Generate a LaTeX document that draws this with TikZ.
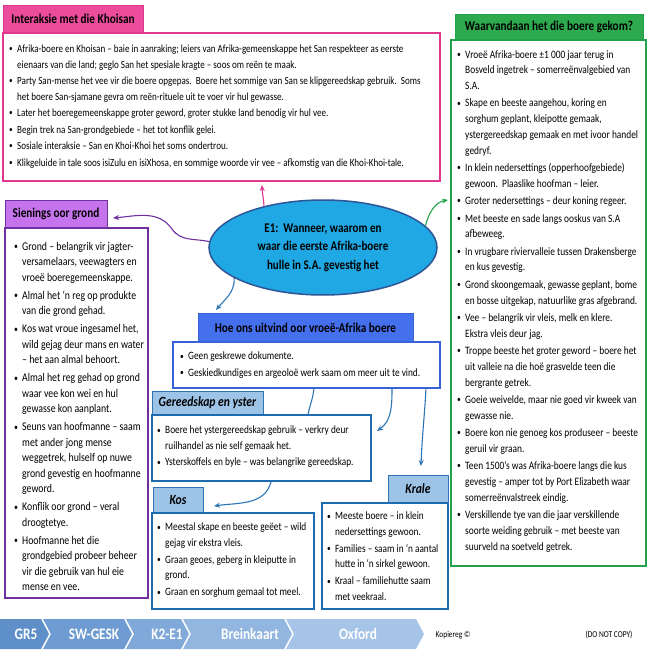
\documentclass[tikz,border=0pt]{standalone}
\usepackage{fontspec}
\setmainfont{Carlito}[FakeStretch=0.83]
\usepackage{graphicx}
\usetikzlibrary{calc,shapes.geometric,arrows.meta}

\definecolor{pinkc}{HTML}{E2378E}
\definecolor{pinktab}{HTML}{EB4C9B}
\definecolor{greenc}{HTML}{22A24B}
\definecolor{greentab}{HTML}{2EAA4E}
\definecolor{purplec}{HTML}{7030A0}
\definecolor{purpletab}{HTML}{C674EE}
\definecolor{ellfill}{HTML}{1FA8E4}
\definecolor{elldraw}{HTML}{2F5597}
\definecolor{hoetab}{HTML}{4470EE}
\definecolor{hoec}{HTML}{3A62D6}
\definecolor{ltab}{HTML}{9DC3E6}
\definecolor{bluec}{HTML}{1F6BB0}
\definecolor{arrowblue}{HTML}{2E75B6}
\definecolor{chA}{HTML}{5E8FC9}
\definecolor{chB}{HTML}{6E9BD1}
\definecolor{chC}{HTML}{80A9D9}
\definecolor{chD}{HTML}{92B6E0}
\definecolor{chE}{HTML}{A6C4E7}

\newcommand\bul{\makebox[8pt][l]{\raisebox{0.15ex}{\scalebox{0.8}{\textbullet}}}}
\newcommand\ind{\hspace*{8pt}}

\begin{document}
\begin{tikzpicture}[x=1pt,y=-1pt,
  tabbox/.style={draw, line width=0.8pt, inner sep=0pt, outer sep=0pt, text=black,
    font=\fontsize{13.5}{16}\selectfont\bfseries},
  ltabbox/.style={tabbox, fill=ltab, draw=arrowblue,
    font=\fontsize{14}{16}\selectfont\bfseries\itshape},
  cbox/.style={draw, line width=2.6pt, fill=white, inner sep=0pt, outer sep=0pt},
  txt/.style={align=left, inner sep=0pt, anchor=north west, text=black,
    font=\fontsize{11.2}{15.5}\selectfont},
  conn/.style={line width=1.1pt, -{Stealth[length=6pt,width=5pt]}},
  plain/.style={line width=1.1pt},
  chev/.style={text=white, font=\fontsize{16}{18}\selectfont\bfseries},
  foot/.style={text=black, font=\fontsize{9}{10}\selectfont}
]
\useasboundingbox (0,0) rectangle (650,650);
\fill[white] (0,0) rectangle (650,650);

% ---------- Interaksie met die Khoisan ----------
\node[tabbox, fill=pinktab, draw=pinkc, minimum width=140pt, minimum height=28pt] (ktab) at (73,19) {Interaksie met die Khoisan};
\node[cbox, draw=pinkc, minimum width=437pt, minimum height=148pt] (kbox) at (221.5,107) {};
\node[txt, font=\fontsize{10.9}{15.5}\selectfont] (ktext) at ($(kbox.north west)+(6,12)$) {%
\bul Afrika-boere en Khoisan – baie in aanraking; leiers van Afrika-gemeenskappe het San respekteer as eerste\\
\ind eienaars van die land; geglo San het spesiale kragte – soos om reën te maak.\\[1pt]
\bul Party San-mense het vee vir die boere opgepas.\ \ Boere het sommige van San se klipgereedskap gebruik.\ \ Soms\\
\ind het boere San-sjamane gevra om reën-rituele uit te voer vir hul gewasse.\\[1pt]
\bul Later het boeregemeenskappe groter geword, groter stukke land benodig vir hul vee.\\[1pt]
\bul Begin trek na San-grondgebiede – het tot konflik gelei.\\[1pt]
\bul Sosiale interaksie – San en Khoi-Khoi het soms ondertrou.\\[1pt]
\bul Klikgeluide in tale soos isiZulu en isiXhosa, en sommige woorde vir vee – afkomstig van die Khoi-Khoi-tale.};

% ---------- Waarvandaan ----------
\node[tabbox, fill=greentab, draw=greenc, minimum width=188pt, minimum height=26pt] (gtab) at (549,27) {Waarvandaan het die boere gekom?};
\node[cbox, draw=greenc, minimum width=195pt, minimum height=526pt] (gbox) at (548.5,303) {};
\node[txt, font=\fontsize{11.3}{15.8}\selectfont] (gtext) at ($(gbox.north west)+(6,10)$) {%
\bul Vroeë Afrika-boere ±1 000 jaar terug in\\
\ind Bosveld ingetrek – somerreënvalgebied van\\
\ind S.A.\\[1.5pt]
\bul Skape en beeste aangehou, koring en\\
\ind sorghum geplant, kleipotte gemaak,\\
\ind ystergereedskap gemaak en met ivoor handel\\
\ind gedryf.\\[1.5pt]
\bul In klein nedersettings (opperhoofgebiede)\\
\ind gewoon.\ \ Plaaslike hoofman – leier.\\[1.5pt]
\bul Groter nedersettings – deur koning regeer.\\[1.5pt]
\bul Met beeste en sade langs ooskus van S.A\\
\ind afbeweeg.\\[1.5pt]
\bul In vrugbare riviervalleie tussen Drakensberge\\
\ind en kus gevestig.\\[1.5pt]
\bul Grond skoongemaak, gewasse geplant, bome\\
\ind en bosse uitgekap, natuurlike gras afgebrand.\\[1.5pt]
\bul Vee – belangrik vir vleis, melk en klere.\\
\ind Ekstra vleis deur jag.\\[1.5pt]
\bul Troppe beeste het groter geword – boere het\\
\ind uit valleie na die hoë grasvelde teen die\\
\ind bergrante getrek.\\[1.5pt]
\bul Goeie weivelde, maar nie goed vir kweek van\\
\ind gewasse nie.\\[1.5pt]
\bul Boere kon nie genoeg kos produseer – beeste\\
\ind geruil vir graan.\\[1.5pt]
\bul Teen 1500’s was Afrika-boere langs die kus\\
\ind gevestig – amper tot by Port Elizabeth waar\\
\ind somerreënvalstreek eindig.\\[1.5pt]
\bul Verskillende tye van die jaar verskillende\\
\ind soorte weiding gebruik – met beeste van\\
\ind suurveld na soetveld getrek.};

% ---------- Sienings oor grond ----------
\node[tabbox, fill=purpletab, draw=purplec, minimum width=102pt, minimum height=28pt] (stab) at (56,214) {Sienings oor grond};
\node[cbox, draw=purplec, minimum width=143pt, minimum height=370pt] (sbox) at (76.5,413) {};
\node[txt, font=\fontsize{11.8}{15.5}\selectfont] (stext) at ($(sbox.north west)+(9,14)$) {%
\bul Grond – belangrik vir jagter-\\
\ind versamelaars, veewagters en\\
\ind vroeë boeregemeenskappe.\\[2.5pt]
\bul Almal het ‘n reg op produkte\\
\ind van die grond gehad.\\[2.5pt]
\bul Kos wat vroue ingesamel het,\\
\ind wild gejag deur mans en water\\
\ind – het aan almal behoort.\\[2.5pt]
\bul Almal het reg gehad op grond\\
\ind waar vee kon wei en hul\\
\ind gewasse kon aanplant.\\[2.5pt]
\bul Seuns van hoofmanne – saam\\
\ind met ander jong mense\\
\ind weggetrek, hulself op nuwe\\
\ind grond gevestig en hoofmanne\\
\ind geword.\\[2.5pt]
\bul Konflik oor grond – veral\\
\ind droogtetye.\\[2.5pt]
\bul Hoofmanne het die\\
\ind grondgebied probeer beheer\\
\ind vir die gebruik van hul eie\\
\ind mense en vee.};

% ---------- central ellipse ----------
\node[ellipse, draw=elldraw, line width=1.5pt, fill=ellfill, minimum width=228pt, minimum height=95pt,
  inner sep=0pt, align=center, font=\fontsize{13.3}{18.5}\selectfont\bfseries] (ell) at (323,247.5)
  {E1:\ \ Wanneer, waarom en\\waar die eerste Afrika-boere\\hulle in S.A. gevestig het};

% ---------- Hoe ons uitvind ----------
\node[tabbox, fill=hoetab, draw=hoec, minimum width=215pt, minimum height=29pt] (htab) at (305.5,327.5) {Hoe ons uitvind oor vroeë-Afrika boere};
\node[cbox, draw=hoec, minimum width=267pt, minimum height=46pt] (hbox) at (306.5,365) {};
\node[txt] (htext) at ($(hbox.north west)+(7,10)$) {%
\bul Geen geskrewe dokumente.\\[1pt]
\bul Geskiedkundiges en argeoloë werk saam om meer uit te vind.};

% ---------- Gereedskap en yster ----------
\node[ltabbox, minimum width=111pt, minimum height=24pt] (gytab) at (207.5,403) {Gereedskap en yster};
\node[cbox, draw=bluec, minimum width=219pt, minimum height=66pt] (gybox) at (261.5,448) {};
\node[txt] (gytext) at ($(gybox.north west)+(5,11)$) {%
\bul Boere het ystergereedskap gebruik – verkry deur\\
\ind ruilhandel as nie self gemaak het.\\[1pt]
\bul Ysterskoffels en byle – was belangrike gereedskap.};

% ---------- Kos ----------
\node[ltabbox, minimum width=50pt, minimum height=26pt] (kostab) at (178,500) {Kos};
\node[cbox, draw=bluec, minimum width=162pt, minimum height=96pt] (kosbox) at (233,561) {};
\node[txt] (kostext) at ($(kosbox.north west)+(5,10)$) {%
\bul Meestal skape en beeste geëet – wild\\
\ind gejag vir ekstra vleis.\\[1.5pt]
\bul Graan geoes, geberg in kleiputte in\\
\ind grond.\\[1.5pt]
\bul Graan en sorghum gemaal tot meel.};

% ---------- Krale ----------
\node[ltabbox, minimum width=60pt, minimum height=28pt] (krtab) at (418,489) {Krale};
\node[cbox, draw=bluec, minimum width=126pt, minimum height=106pt] (krbox) at (385,556) {};
\node[txt] (krtext) at ($(krbox.north west)+(5,9)$) {%
\bul Meeste boere – in klein\\
\ind nedersettings gewoon.\\[1.5pt]
\bul Families – saam in ‘n aantal\\
\ind hutte in ‘n sirkel gewoon.\\[1.5pt]
\bul Kraal – familiehutte saam\\
\ind met veekraal.};

% ---------- connectors ----------
\draw[conn, pinkc] (ell.145) to[out=92,in=-88] ($(kbox.south west)+(259,4)$);
\draw[conn, greenc] (ell.12) to[out=75,in=190] ($(gbox.north west)+(-3,160)$);
\coordinate (pk) at (172,229);
\draw[conn, purplec] (ell.177) to[out=168,in=-55] (pk) to[out=125,in=5] ($(stab.east)+(6,4)$);
\draw[conn, arrowblue] (ell.199) to[out=-88,in=50] ($(htab.north west)+(18,-3)$);
\draw[plain, arrowblue] ($(hbox.south west)+(141,0)$) to[out=-95,in=80] ($(gybox.north west)+(156,0)$);
\draw[conn, arrowblue] ($(hbox.south west)+(219,0)$) to[out=-90,in=35] ($(gybox.north east)+(6,16)$);
\draw[conn, arrowblue] ($(hbox.south west)+(253,0)$) to[out=-93,in=88] ($(krtab.north)+(3,-9)$);
\draw[conn, arrowblue] ($(gybox.south west)+(119,1)$) to[out=-105,in=8] ($(kostab.east)+(11,6)$);

% ---------- footer ----------
\fill[chA] (0,619) -- (41,619) -- (49,634) -- (41,649) -- (0,649) -- cycle;
\fill[chB] (43,619) -- (124,619) -- (132,634) -- (124,649) -- (43,649) -- (51,634) -- cycle;
\fill[chC] (126,619) -- (181,619) -- (189,634) -- (181,649) -- (126,649) -- (134,634) -- cycle;
\fill[chD] (183,619) -- (284,619) -- (292,634) -- (284,649) -- (183,649) -- (191,634) -- cycle;
\fill[chE] (286,619) -- (416,619) -- (424,634) -- (416,649) -- (286,649) -- (294,634) -- cycle;
\node[chev] (f1) at (26,634) {GR5};
\node[chev] (f2) at (94,634) {SW-GESK};
\node[chev] (f3) at (167,634) {K2-E1};
\node[chev] (f4) at (250,634) {Breinkaart};
\node[chev] (f5) at (358,634) {Oxford};
\node[foot] (f6) at (453,635) {Kopiereg ©};
\node[foot] (f7) at (609,635) {(DO NOT COPY)};
\end{tikzpicture}
\end{document}
